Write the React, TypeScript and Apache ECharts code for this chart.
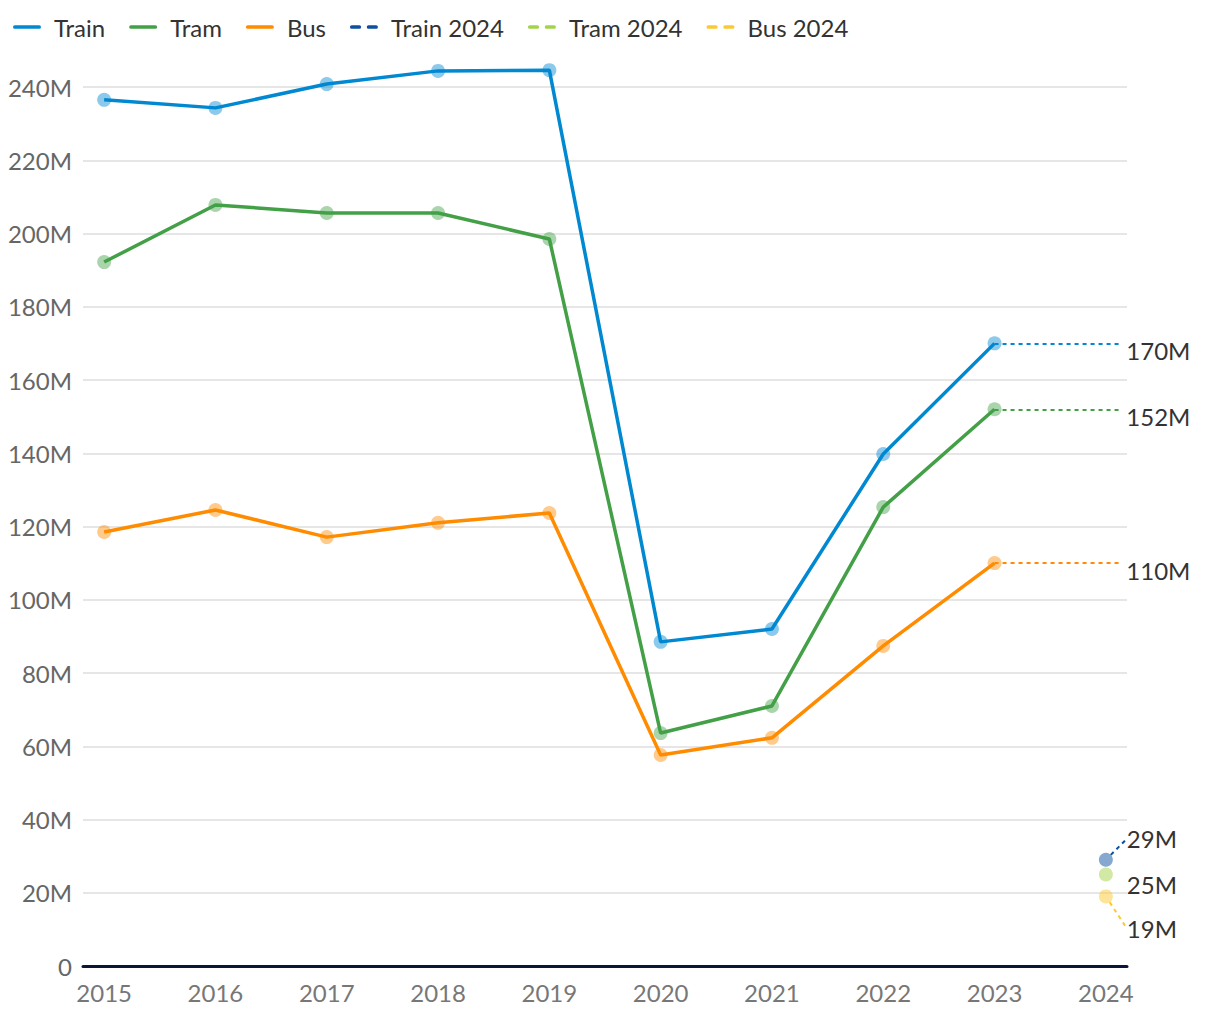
import React, { useEffect, useRef } from "react";
import * as echarts from "echarts";

const years = [2015, 2016, 2017, 2018, 2019, 2020, 2021, 2022, 2023];
const axisYears = [2015, 2016, 2017, 2018, 2019, 2020, 2021, 2022, 2023, 2024];
const train = [236.5, 234.3, 240.8, 244.4, 244.6, 88.5, 92.0, 139.8, 170];
const tram = [192.2, 207.8, 205.6, 205.6, 198.5, 63.6, 71.0, 125.3, 152];
const bus = [118.5, 124.5, 117.1, 121.0, 123.7, 57.6, 62.3, 87.4, 110];
const year2024 = 2024;
const train2024 = 29;
const tram2024 = 25;
const bus2024 = 19;
const yTicks = [0, 20, 40, 60, 80, 100, 120, 140, 160, 180, 200, 220, 240];

const C_TRAIN = "#0088d1";
const C_TRAM = "#43a047";
const C_BUS = "#ff8c00";
const C_TRAIN24 = "#0d4fa0";
const C_TRAM24 = "#a3d34a";
const C_BUS24 = "#fcc932";
const FONT = "Lato";

const solidIcon = "path://M2,0 H28 A2,2 0 0 1 28,4 H2 A2,2 0 0 1 2,0 Z";
const dashIcon = "path://M2,0 H10 A2,2 0 0 1 10,4 H2 A2,2 0 0 1 2,0 Z M20,0 H28 A2,2 0 0 1 28,4 H20 A2,2 0 0 1 20,0 Z";

function mainSeries(name: string, values: number[], color: string) {
  const last = values[values.length - 1];
  return {
    name,
    type: "line",
    data: years.map((y, i) => [y, values[i]]),
    clip: false,
    symbol: "circle",
    symbolSize: 14,
    itemStyle: { color, opacity: 0.45 },
    lineStyle: { color, width: 3.5, opacity: 1 },
    emphasis: { disabled: true },
    z: 3,
    markLine: {
      silent: true,
      symbol: ["none", "none"],
      lineStyle: { color, width: 2, type: [4, 4], opacity: 1 },
      label: {
        show: true,
        position: "end",
        formatter: `${last}M`,
        color: "#333",
        fontSize: 24,
        fontFamily: FONT,
        distance: 6,
        verticalAlign: "top",
        lineHeight: 14,
      },
      data: [[{ coord: [years[years.length - 1], last] }, { coord: [2024.13, last] }]],
    },
  };
}

function pointSeries(name: string, value: number, color: string, dy: number, showLine: boolean) {
  return {
    name,
    type: "line",
    data: [[year2024, value]],
    clip: false,
    symbol: "circle",
    symbolSize: 14,
    itemStyle: { color, opacity: 0.5 },
    lineStyle: { color, type: "dashed" },
    emphasis: { disabled: true },
    z: 4,
    label: {
      show: true,
      position: "right",
      distance: 14,
      formatter: `${value}M`,
      color: "#333",
      opacity: 1,
      fontSize: 24,
      fontFamily: FONT,
    },
    labelLayout: { dy },
    labelLine: {
      show: showLine,
      lineStyle: { color, width: 2, type: [4, 4], opacity: 1 },
    },
  };
}

export default function App() {
  const ref = useRef<HTMLDivElement>(null);
  useEffect(() => {
    if (!ref.current) return;
    const chart = echarts.init(ref.current, null, { renderer: "svg" });
    chart.setOption({
      animation: false,
      backgroundColor: "#ffffff",
      textStyle: { fontFamily: FONT },
      legend: {
        left: 8,
        top: 10,
        itemWidth: 28,
        itemHeight: 4,
        itemGap: 24,
        textStyle: { fontSize: 24, color: "#333", fontFamily: FONT, padding: [0, 0, 0, 8] },
        data: [
          { name: "Train", icon: solidIcon, itemStyle: { color: C_TRAIN, opacity: 1 } },
          { name: "Tram", icon: solidIcon, itemStyle: { color: C_TRAM, opacity: 1 } },
          { name: "Bus", icon: solidIcon, itemStyle: { color: C_BUS, opacity: 1 } },
          { name: "Train 2024", icon: dashIcon, itemStyle: { color: C_TRAIN24, opacity: 1 } },
          { name: "Tram 2024", icon: dashIcon, itemStyle: { color: C_TRAM24, opacity: 1 } },
          { name: "Bus 2024", icon: dashIcon, itemStyle: { color: C_BUS24, opacity: 1 } },
        ],
      },
      grid: { left: 83, right: 93, top: 87, bottom: 54, containLabel: false },
      xAxis: {
        type: "value",
        min: 2014.81,
        max: 2024.19,
        axisLine: { show: true, onZero: false, lineStyle: { color: "#0b1538", width: 3 } },
        axisTick: { show: false },
        splitLine: { show: false },
        axisLabel: {
          customValues: axisYears,
          formatter: (v: number) => String(Math.round(v)),
          color: "#777",
          fontSize: 24,
          fontFamily: FONT,
          margin: 14,
        },
      },
      yAxis: {
        type: "value",
        min: 0,
        max: 240,
        interval: 20,
        axisLine: { show: false },
        axisTick: { show: false },
        splitLine: { show: true, lineStyle: { color: "#e6e6e6", width: 2 } },
        axisLabel: {
          customValues: yTicks,
          formatter: (v: number) => (v === 0 ? "0" : `${v}M`),
          color: "#666",
          fontSize: 24,
          fontFamily: FONT,
          margin: 11,
        },
      },
      series: [
        mainSeries("Train", train, C_TRAIN),
        mainSeries("Tram", tram, C_TRAM),
        mainSeries("Bus", bus, C_BUS),
        pointSeries("Train 2024", train2024, C_TRAIN24, -21, true),
        pointSeries("Tram 2024", tram2024, C_TRAM24, 10, false),
        pointSeries("Bus 2024", bus2024, C_BUS24, 32, true),
      ],
    });
    return () => chart.dispose();
  }, []);
  return (
    <div
      ref={ref}
      style={{ position: "fixed", left: 0, top: 0, width: 1220, height: 1020 }}
    />
  );
}
